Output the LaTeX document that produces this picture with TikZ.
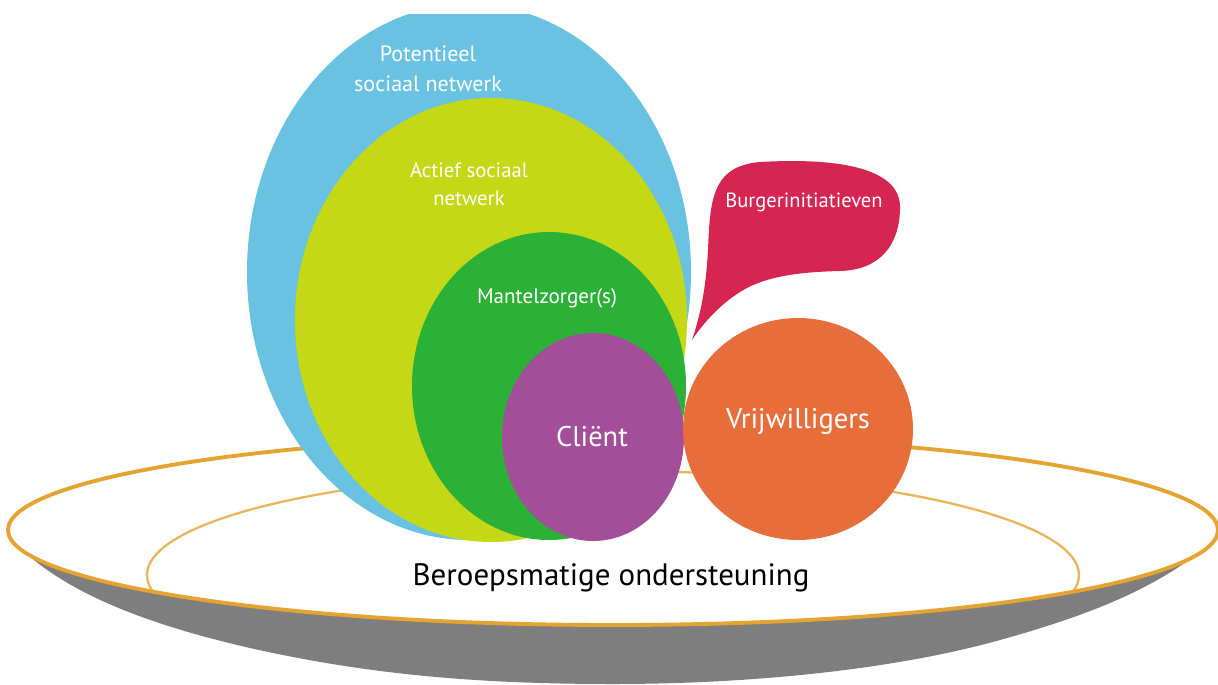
\documentclass[tikz,border=0pt]{standalone}
\usepackage{fontspec}
\setmainfont{PT Sans}
\usetikzlibrary{positioning}
\definecolor{potblue}{HTML}{6AC2E2}
\definecolor{actgreen}{HTML}{C4D816}
\definecolor{mzgreen}{HTML}{2BB236}
\definecolor{clpurple}{HTML}{A34E98}
\definecolor{vworange}{HTML}{E76E3A}
\definecolor{bired}{HTML}{D72552}
\definecolor{rimgold}{HTML}{E5A431}
\definecolor{innergold}{HTML}{E9B45A}
\definecolor{plategray}{HTML}{7E7E7E}

\begin{document}
\begin{tikzpicture}[x=0.02cm,y=-0.02cm,
					lbl/.style={text=white,align=center,inner sep=0pt},
					semithick]
					\useasboundingbox (0,0) rectangle (1218,684);
					
					% plate
					\fill[plategray] (20,548) .. controls (70,595) and (150,625) .. (250,648)
					.. controls (370,675) and (480,684) .. (613,684)
					.. controls (760,684) and (900,668) .. (1000,640)
					.. controls (1090,615) and (1150,590) .. (1200,552) -- cycle;
					\fill[white] (613,530) ellipse [x radius=605,y radius=95];
					\begin{scope}
						\clip (613,530) ellipse [x radius=605,y radius=95];
						\draw[innergold,line width=1.3pt] (613,575) ellipse [x radius=466,y radius=104];
					\end{scope}
					\draw[rimgold,line width=2.2pt] (613,530) ellipse [x radius=605,y radius=95];
					\node (plate) at (611,578) {\fontsize{17.6}{20}\selectfont Beroepsmatige ondersteuning};
					
					% circles
					\begin{scope}
						\clip (0,14) rectangle (1218,684);
						\fill[potblue] (469,272) ellipse [x radius=222,y radius=268];
					\end{scope}
					\fill[actgreen] (491,320) ellipse [x radius=196,y radius=222];
					\fill[mzgreen] (549,386) ellipse [x radius=137,y radius=154];
					\fill[clpurple] (593,437) ellipse [x radius=91,y radius=104];
					\fill[bired] (692,340) .. controls (702,310) and (706,285) .. (708,250)
					.. controls (710,200) and (712,166) .. (760,162)
					.. controls (830,158) and (903,165) .. (900,210)
					.. controls (899,245) and (880,270) .. (840,271)
					.. controls (800,272) and (765,276) .. (740,292)
					.. controls (718,306) and (702,325) .. (692,340) -- cycle;
					\fill[vworange] (798,429) ellipse [x radius=115,y radius=111];
					
					% labels
					\node[lbl,font=\fontsize{12.6}{17}\selectfont] (pot) at (428,69) {Potentieel\\sociaal netwerk};
					\node[lbl,font=\fontsize{11.8}{16}\selectfont] (act) at (469,184) {Actief sociaal\\netwerk};
					\node[lbl,font=\fontsize{12}{14}\selectfont] (mz)  at (547,298) {Mantelzorger(s)};
					\node[lbl,font=\fontsize{16.2}{19}\selectfont] (cl)  at (592,437) {Cliënt};
					\node[lbl,font=\fontsize{16.2}{19}\selectfont] (vw)  at (798,421) {Vrijwilligers};
					\node[lbl,font=\fontsize{11.7}{13}\selectfont] (bi)  at (804,202) {Burgerinitiatieven};
					
\end{tikzpicture}
\end{document}
